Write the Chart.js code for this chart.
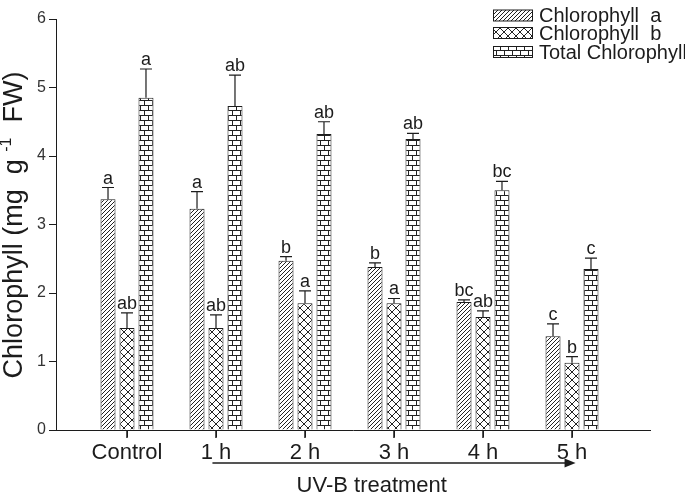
<!DOCTYPE html>
<html>
<head>
<meta charset="utf-8">
<script src="https://cdn.jsdelivr.net/npm/chart.js@4.4.1/dist/chart.umd.min.js"></script>
<style>
  html, body { margin: 0; padding: 0; background: #fff; }
</style>
</head>
<body>
<canvas id="grafica" width="685" height="497"></canvas>
<script>
// 📋 Datos
const categorias = ['Control', '1 h', '2 h', '3 h', '4 h', '5 h'];
const clorofilaA = [3.37, 3.23, 2.47, 2.38, 1.87, 1.37];
const clorofilaB = [1.49, 1.49, 1.85, 1.85, 1.65, 0.98];
const clorofilaTotal = [4.85, 4.73, 4.32, 4.25, 3.50, 2.35];
const errorA = [0.17, 0.25, 0.06, 0.06, 0.03, 0.18];
const errorB = [0.22, 0.19, 0.18, 0.07, 0.09, 0.09];
const errorTotal = [0.42, 0.45, 0.18, 0.08, 0.13, 0.16];
const letrasA = ['a', 'a', 'b', 'b', 'bc', 'c'];
const letrasB = ['ab', 'ab', 'a', 'a', 'ab', 'b'];
const letrasTotal = ['a', 'ab', 'ab', 'ab', 'bc', 'c'];
const ticksY = [0, 1, 2, 3, 4, 5, 6];

const FUENTE = '"Liberation Sans", Arial, sans-serif';
const TINTA = '#1c1c1c';

// 🎨 Patrones de relleno
function crearPatron(tipo) {
  const c = document.createElement('canvas');
  const ctx = c.getContext('2d');
  if (tipo === 'rayas') { c.width = 4; c.height = 4; }
  if (tipo === 'cruces') { c.width = 8; c.height = 8; }
  if (tipo === 'ladrillo') { c.width = 8; c.height = 10; }

  ctx.fillStyle = '#fff';
  ctx.fillRect(0, 0, c.width, c.height);
  ctx.strokeStyle = '#222';
  ctx.lineWidth = 1;
  ctx.beginPath();

  if (tipo === 'rayas') {
    ctx.moveTo(0, 4); ctx.lineTo(4, 0);
    ctx.moveTo(-1, 1); ctx.lineTo(1, -1);
    ctx.moveTo(3, 5); ctx.lineTo(5, 3);
  } else if (tipo === 'cruces') {
    ctx.moveTo(0, 0); ctx.lineTo(8, 8);
    ctx.moveTo(8, 0); ctx.lineTo(0, 8);
  } else {
    ctx.moveTo(0, 0.5); ctx.lineTo(8, 0.5);
    ctx.moveTo(0, 5.5); ctx.lineTo(8, 5.5);
    ctx.moveTo(0.5, 0.5); ctx.lineTo(0.5, 5.5);
    ctx.moveTo(4.5, 5.5); ctx.lineTo(4.5, 10);
  }
  ctx.stroke();
  return ctx.createPattern(c, 'repeat');
}

const puntos = (valores) => valores.map((v, i) => ({ x: i + 1, y: v }));

// 📏 Barras de error y letras
const pluginErrores = {
  id: 'errores',
  afterDatasetsDraw(chart) {
    const ctx = chart.ctx;
    const y = chart.scales.y;
    ctx.save();
    ctx.strokeStyle = TINTA;
    ctx.lineWidth = 1.2;
    ctx.fillStyle = TINTA;
    ctx.font = '18px ' + FUENTE;
    ctx.textAlign = 'center';
    ctx.textBaseline = 'alphabetic';

    chart.data.datasets.forEach((ds, d) => {
      const meta = chart.getDatasetMeta(d);
      meta.data.forEach((barra, i) => {
        const tope = y.getPixelForValue(ds.data[i].y + ds.errores[i]);
        ctx.beginPath();
        ctx.moveTo(barra.x, barra.y);
        ctx.lineTo(barra.x, tope);
        ctx.moveTo(barra.x - 6, tope);
        ctx.lineTo(barra.x + 6, tope);
        ctx.stroke();
        ctx.fillText(ds.letras[i], barra.x, tope - 4);
      });
    });
    ctx.restore();
  }
};

// 🏷️ Leyenda, títulos y flecha
const pluginDecoracion = {
  id: 'decoracion',
  afterDraw(chart) {
    const ctx = chart.ctx;
    const x = chart.scales.x;
    const y = chart.scales.y;
    ctx.save();

    // marcas del eje x (hacia abajo)
    const base = y.getPixelForValue(0);
    ctx.strokeStyle = TINTA;
    ctx.lineWidth = 1.5;
    ctx.beginPath();
    categorias.forEach((c, i) => {
      const px = x.getPixelForValue(i + 1);
      ctx.moveTo(px, base);
      ctx.lineTo(px, base + 8);
    });
    ctx.stroke();

    // leyenda
    const filas = [15.5, 33, 52];
    ctx.font = '20px ' + FUENTE;
    ctx.textBaseline = 'middle';
    ctx.textAlign = 'left';
    chart.data.datasets.forEach((ds, d) => {
      const cy = filas[d];
      ctx.fillStyle = ds.backgroundColor;
      ctx.fillRect(493, cy - 5.5, 40, 11);
      ctx.strokeStyle = TINTA;
      ctx.lineWidth = 1;
      ctx.strokeRect(493.5, cy - 5.5, 39, 11);
      ctx.fillStyle = TINTA;
      ctx.fillText(ds.label, 539, cy + 1);
    });

    // flecha del tratamiento
    const x1 = x.getPixelForValue(1.96);
    const x2 = x.getPixelForValue(6.04);
    const yf = 463;
    ctx.strokeStyle = TINTA;
    ctx.lineWidth = 1.5;
    ctx.beginPath();
    ctx.moveTo(x1, yf);
    ctx.lineTo(x2 - 8, yf);
    ctx.stroke();
    ctx.fillStyle = TINTA;
    ctx.beginPath();
    ctx.moveTo(x2, yf);
    ctx.lineTo(x2 - 11, yf - 4.5);
    ctx.lineTo(x2 - 11, yf + 4.5);
    ctx.closePath();
    ctx.fill();

    // título eje x
    ctx.font = '22px ' + FUENTE;
    ctx.textAlign = 'center';
    ctx.textBaseline = 'alphabetic';
    ctx.fillText('UV-B treatment', x.getPixelForValue(3.75), 492);

    // título eje y con superíndice
    ctx.translate(15, 225);
    ctx.rotate(-Math.PI / 2);
    ctx.textBaseline = 'middle';
    ctx.textAlign = 'left';
    const partes = [
      { t: 'Chlorophyll (mg  g ', f: '27px ', dy: 0 },
      { t: '-1', f: '16px ', dy: -8 },
      { t: '  FW)', f: '27px ', dy: 0 }
    ];
    let total = 0;
    partes.forEach(p => { ctx.font = p.f + FUENTE; p.w = ctx.measureText(p.t).width; total += p.w; });
    let cx = -total / 2;
    partes.forEach(p => {
      ctx.font = p.f + FUENTE;
      ctx.fillText(p.t, cx, p.dy);
      cx += p.w;
    });

    ctx.restore();
  }
};

// 📊 Gráfica
new Chart(document.getElementById('grafica'), {
  type: 'bar',
  data: {
    datasets: [
      {
        label: 'Chlorophyll  a',
        data: puntos(clorofilaA),
        backgroundColor: crearPatron('rayas'),
        errores: errorA,
        letras: letrasA
      },
      {
        label: 'Chlorophyll  b',
        data: puntos(clorofilaB),
        backgroundColor: crearPatron('cruces'),
        errores: errorB,
        letras: letrasB
      },
      {
        label: 'Total Chlorophyll',
        data: puntos(clorofilaTotal),
        backgroundColor: crearPatron('ladrillo'),
        errores: errorTotal,
        letras: letrasTotal
      }
    ]
  },
  options: {
    responsive: false,
    animation: false,
    layout: { padding: { top: 19, right: 35, left: 0, bottom: 0 } },
    datasets: {
      bar: {
        barPercentage: 0.79,
        categoryPercentage: 0.64,
        borderWidth: 1,
        borderColor: TINTA
      }
    },
    plugins: {
      legend: { display: false },
      tooltip: { enabled: false }
    },
    scales: {
      x: {
        type: 'linear',
        min: 1 - 71 / 89,
        max: 6 + 78 / 89,
        offset: false,
        afterBuildTicks: s => { s.ticks = categorias.map((c, i) => ({ value: i + 1 })); },
        afterFit: s => { s.height = 67; },
        ticks: {
          callback: v => categorias[v - 1],
          font: { family: FUENTE, size: 22 },
          color: TINTA,
          padding: 3,
          autoSkip: false,
          maxRotation: 0
        },
        grid: { offset: false, drawOnChartArea: false, drawTicks: true, tickLength: 7, color: TINTA },
        border: { display: true, color: TINTA, width: 1 }
      },
      y: {
        min: 0,
        max: 6,
        afterBuildTicks: s => { s.ticks = ticksY.map(v => ({ value: v })); },
        afterFit: s => { s.width = 56; },
        ticks: {
          font: { family: FUENTE, size: 16 },
          color: '#333',
          padding: 3
        },
        grid: { drawOnChartArea: false, drawTicks: true, tickLength: 7, color: TINTA },
        border: { display: true, color: TINTA, width: 1 }
      }
    }
  },
  plugins: [pluginErrores, pluginDecoracion]
});
</script>
</body>
</html>
